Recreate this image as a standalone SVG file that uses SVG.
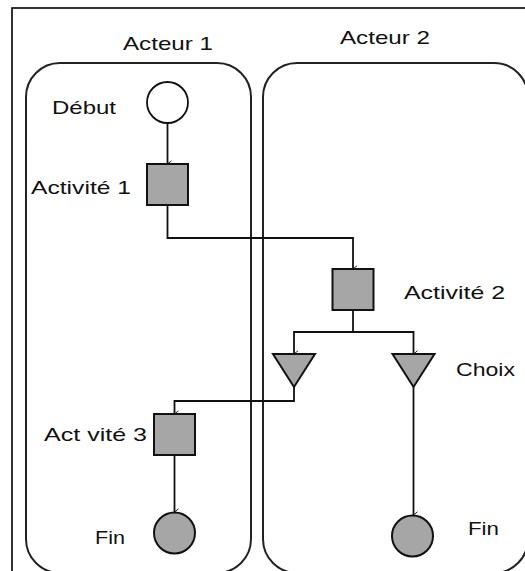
<svg xmlns="http://www.w3.org/2000/svg" width="525" height="571" viewBox="0 0 525 571">
<defs>
<style>
.lane{fill:none;stroke:#222;stroke-width:2}
.frame{fill:none;stroke:#000;stroke-width:1.6}
.node{fill:#a6a6a6;stroke:#111;stroke-width:2}
.start{fill:#fff;stroke:#111;stroke-width:1.8}
.conn{fill:none;stroke:#111;stroke-width:1.8}
.lbl{font-family:"Liberation Sans",Arial,sans-serif;font-size:19px;fill:#111}
</style>
<marker id="arr" viewBox="0 0 10 10" refX="5" refY="9" markerWidth="8" markerHeight="8" orient="auto-start-reverse" markerUnits="userSpaceOnUse">
<path d="M1,4 L5,9 L9,4" fill="none" stroke="#111" stroke-width="1.2"/>
</marker>
</defs>
<rect width="525" height="571" fill="#fff"/>
<rect class="frame" x="12" y="8" width="530" height="580"/>
<g id="lane1">
<rect class="lane" x="26" y="63" width="225" height="510" rx="34" ry="34"/>
<text class="lbl" x="123" y="50" textLength="90" lengthAdjust="spacingAndGlyphs">Acteur 1</text>
</g>
<g id="lane2">
<rect class="lane" x="263" y="63" width="265" height="510" rx="34" ry="34"/>
<text class="lbl" x="340" y="44" textLength="90" lengthAdjust="spacingAndGlyphs">Acteur 2</text>
</g>
<g id="connectors">
<path class="conn" d="M167.5,123 V164" marker-end="url(#arr)"/>
<path class="conn" d="M167.5,205 V238 H353 V269" marker-end="url(#arr)"/>
<path class="conn" d="M353,310 V332 H294 V354" marker-end="url(#arr)"/>
<path class="conn" d="M353,332 H413.5 V354" marker-end="url(#arr)"/>
<path class="conn" d="M294,387 V401 H174.5 V414" marker-end="url(#arr)"/>
<path class="conn" d="M174.5,455 V512" marker-end="url(#arr)"/>
<path class="conn" d="M413.5,387 V515" marker-end="url(#arr)"/>
</g>
<g id="debut">
<circle class="start" cx="167.5" cy="102.5" r="20.5"/>
<text class="lbl" x="52" y="114" textLength="64" lengthAdjust="spacingAndGlyphs">Début</text>
</g>
<g id="activite1">
<rect class="node" x="147" y="164" width="41" height="41"/>
<text class="lbl" x="31" y="194" textLength="100" lengthAdjust="spacingAndGlyphs">Activité 1</text>
</g>
<g id="activite2">
<rect class="node" x="332.5" y="269" width="41" height="41"/>
<text class="lbl" x="404" y="299" textLength="101" lengthAdjust="spacingAndGlyphs">Activité 2</text>
</g>
<g id="choix1">
<polygon class="node" points="273,354 315,354 294,387"/>
</g>
<g id="choix2">
<polygon class="node" points="392.5,354 434.5,354 413.5,387"/>
<text class="lbl" x="456" y="376" textLength="59" lengthAdjust="spacingAndGlyphs">Choix</text>
</g>
<g id="activite3">
<rect class="node" x="154" y="414" width="41" height="41"/>
<text class="lbl" x="44" y="441" textLength="103" lengthAdjust="spacingAndGlyphs">Act vité 3</text>
</g>
<g id="fin1">
<circle class="node" cx="174.5" cy="533" r="20.5"/>
<text class="lbl" x="95" y="544" textLength="30" lengthAdjust="spacingAndGlyphs">Fin</text>
</g>
<g id="fin2">
<circle class="node" cx="412.5" cy="536" r="20.5"/>
<text class="lbl" x="468" y="535" textLength="31" lengthAdjust="spacingAndGlyphs">Fin</text>
</g>
</svg>
